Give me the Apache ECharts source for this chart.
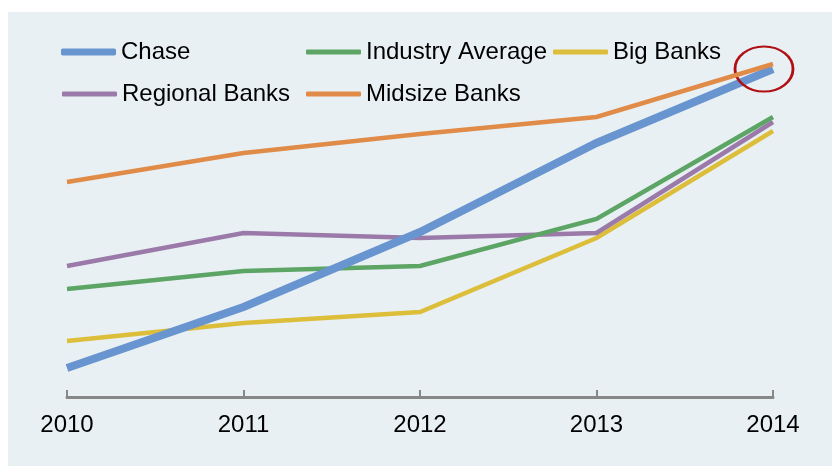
<!DOCTYPE html>
<html>
<head>
<meta charset="utf-8">
<script src="https://cdn.jsdelivr.net/npm/echarts@6/dist/echarts.min.js"></script>
<style>
  html, body { margin: 0; padding: 0; background: #ffffff; width: 832px; height: 466px; overflow: hidden; }
  #chart { position: absolute; left: 8px; top: 12px; width: 824px; height: 454px; }
</style>
</head>
<body>
<div id="chart"></div>
<script>
const years = ['2010', '2011', '2012', '2013', '2014'];
const chase = [2.9, 9.0, 16.5, 25.4, 32.8];
const industryAverage = [10.8, 12.6, 13.1, 17.8, 28.0];
const bigBanks = [5.6, 7.4, 8.5, 15.9, 26.6];
const regionalBanks = [13.1, 16.4, 15.9, 16.4, 27.5];
const midsizeBanks = [21.5, 24.4, 26.3, 28.0, 33.3];

const C = {
  chase: '#6894cf',
  industry: '#5ca565',
  big: '#dcbe3b',
  regional: '#9b7aaa',
  midsize: '#e08b48'
};

const chart = echarts.init(document.getElementById('chart'), null, { renderer: 'canvas' });

function legend(name, left, top, h) {
  return {
    data: [name],
    left: left, top: top,
    padding: 0,
    icon: 'roundRect',
    itemWidth: 55,
    itemHeight: h,
    selectedMode: false,
    textStyle: { fontFamily: 'Liberation Sans, Arial, sans-serif', fontSize: 24, color: '#000', lineHeight: 24 }
  };
}

function lineSeries(name, data, color, width, z) {
  return {
    name: name,
    type: 'line',
    data: data,
    symbol: 'none',
    z: z,
    itemStyle: { color: color },
    lineStyle: { color: color, width: width, cap: 'butt', join: 'miter' },
    emphasis: { disabled: true }
  };
}

const chaseSeries = lineSeries('Chase', chase, C.chase, 8, 4);
chaseSeries.markPoint = {
  silent: true,
  symbol: 'path://M0,50 A50,50 0 1,1 100,50 A50,50 0 1,1 0,50 Z',
  symbolSize: [58, 45],
  symbolOffset: [-9, 0],
  symbolKeepAspect: false,
  itemStyle: { color: 'rgba(0,0,0,0)', borderColor: '#b00f14', borderWidth: 2.5 },
  label: { show: false },
  data: [{ coord: [4, chase[4]] }]
};

chart.setOption({
  animation: false,
  backgroundColor: '#e9f0f4',
  legend: [
    legend('Chase', 53, 28, 7),
    legend('Industry Average', 298, 28, 5),
    legend('Big Banks', 545, 28, 5),
    legend('Regional Banks', 54, 70, 5),
    legend('Midsize Banks', 298, 70, 5)
  ],
  grid: { left: 59, right: 59, top: 35, bottom: 69, containLabel: false },
  xAxis: {
    type: 'category',
    data: years,
    boundaryGap: false,
    axisLine: { show: true, lineStyle: { color: '#878787', width: 3 } },
    axisTick: { show: true, inside: true, length: 7, alignWithLabel: true, lineStyle: { color: '#878787', width: 2 } },
    axisLabel: { color: '#000', fontSize: 24, fontFamily: 'Liberation Sans, Arial, sans-serif', margin: 16 },
    splitLine: { show: false }
  },
  yAxis: {
    type: 'value',
    min: 0,
    max: 35,
    show: false,
    splitLine: { show: false }
  },
  series: [
    lineSeries('Big Banks', bigBanks, C.big, 4.5, 1),
    lineSeries('Regional Banks', regionalBanks, C.regional, 4.5, 2),
    lineSeries('Industry Average', industryAverage, C.industry, 4.5, 3),
    chaseSeries,
    lineSeries('Midsize Banks', midsizeBanks, C.midsize, 4.5, 5)
  ]
});
</script>
</body>
</html>
